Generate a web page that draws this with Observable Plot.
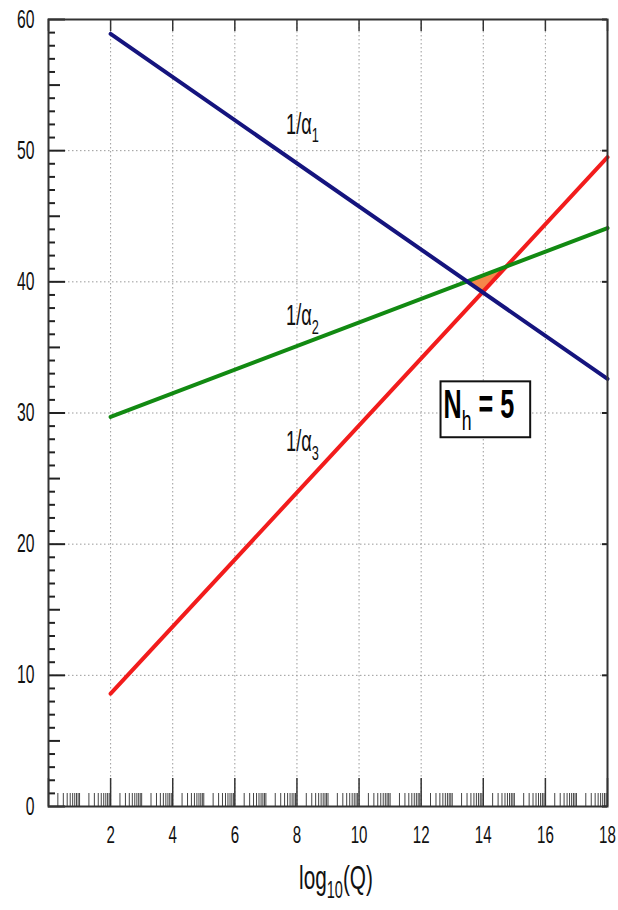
<!DOCTYPE html>
<html><head><meta charset="utf-8">
<script src="https://cdn.jsdelivr.net/npm/d3@7"></script>
<script src="https://cdn.jsdelivr.net/npm/@observablehq/plot@0.6"></script>
<style>
html,body{margin:0;padding:0;background:#fff;}
#chart svg{display:block;}
</style></head>
<body><div id="chart"></div>
<script>
// ---- data ----
const logQ = [2, 18];
const invAlpha1 = [58.9, 32.6];
const invAlpha2 = [29.7, 44.1];
const invAlpha3 = [8.6, 49.5];
const seriesNames = ["1/α_1", "1/α_2", "1/α_3"];
const seriesColors = ["#15147e", "#128a12", "#f21c1c"];
const labelX = [7.65, 7.65, 7.65];
const labelY = [51.3, 36.7, 27.1];
const triX = [13.48, 14.74, 13.98];
const triY = [40.0, 41.2, 39.2];
const xTickLabels = [2, 4, 6, 8, 10, 12, 14, 16, 18];
const yTickLabels = [0, 10, 20, 30, 40, 50, 60];
const xTitle = "log_{10}(Q)";
const boxText = "N_h = 5";
const boxAnchorX = [12.72];
const boxAnchorY = [29.6];
const logSteps = [1, 2, 3, 4, 5, 6, 7, 8, 9];

// ---- layout ----
const W = 618, H = 910;
const mL = 48, mR = 11, mT = 19, mB = 104;
const innerW = W - mL - mR, innerH = H - mT - mB;
const fontFamily = "'Liberation Sans Narrow','Liberation Sans',Arial,sans-serif";

const cv = document.createElement("canvas").getContext("2d");
cv.font = `100px ${fontFamily}`;
const digitEm = cv.measureText("0").width / 100;
const squeeze = Math.min(1, 0.35 / digitEm);

// tick positions
const xMinor = [];
for (let k = 0; k < 18; k++) for (const m of logSteps) {
  const v = k + Math.log10(m);
  if (!(m === 1 && k % 2 === 0)) xMinor.push(v);
}
const xMajor = d3.range(0, 19, 2);
const yAll = d3.range(0, 61, 1);
const yMinor = yAll.filter(v => v % 5 !== 0);
const yMid = yAll.filter(v => v % 5 === 0 && v % 10 !== 0);
const yMajor = yAll.filter(v => v % 10 === 0);

const gridStyle = {stroke: "#9a9a9a", strokeOpacity: 1, strokeWidth: 1, strokeDasharray: "1.5,2.5"};

const chart = Plot.plot({
  width: W, height: H,
  marginLeft: mL, marginRight: mR, marginTop: mT, marginBottom: mB,
  x: {domain: [0, 18], axis: null},
  y: {domain: [0, 60], axis: null},
  style: {fontFamily, fontSize: "24px", color: "#111", background: "#fff", overflow: "visible"},
  marks: [
    Plot.ruleX(xTickLabels.filter(v => v < 18), {x: d => d, ...gridStyle}),
    Plot.ruleY(yTickLabels.filter(v => v > 0 && v < 60), {y: d => d, ...gridStyle}),
    Plot.line(triX.map((_, i) => i), {x: i => triX[i], y: i => triY[i], fill: "#f5874a", stroke: "none", curve: "linear-closed"}),
    Plot.line(logQ, {x: d => d, y: (d, i) => invAlpha3[i], stroke: seriesColors[2], strokeWidth: 4}),
    Plot.line(logQ, {x: d => d, y: (d, i) => invAlpha2[i], stroke: seriesColors[1], strokeWidth: 4}),
    Plot.line(logQ, {x: d => d, y: (d, i) => invAlpha1[i], stroke: seriesColors[0], strokeWidth: 4}),
    // x ticks
    Plot.tickX(xMinor, {x: d => d, insetTop: innerH - 13, stroke: "#444", strokeWidth: 1}),
    Plot.tickX(xMajor, {x: d => d, insetTop: innerH - 28, stroke: "#333", strokeWidth: 1.5}),
    Plot.tickX(xMajor, {x: d => d, insetBottom: innerH - 12, stroke: "#333", strokeWidth: 1.5}),
    // y ticks
    Plot.tickY(yMinor, {y: d => d, insetRight: innerW - 7, stroke: "#222", strokeWidth: 2}),
    Plot.tickY(yMid, {y: d => d, insetRight: innerW - 12, stroke: "#222", strokeWidth: 2}),
    Plot.tickY(yMajor, {y: d => d, insetRight: innerW - 17, stroke: "#222", strokeWidth: 2}),
    Plot.tickY(yMajor, {y: d => d, insetLeft: innerW - 5, stroke: "#222", strokeWidth: 2}),
    Plot.frame({stroke: "#333", strokeWidth: 2}),
    // tick labels
    Plot.text(xTickLabels, {x: d => d, text: d => String(d), frameAnchor: "bottom", dy: 19, lineAnchor: "top", fontSize: 24, fill: "#111"}),
    Plot.text(yTickLabels, {y: d => d, text: d => String(d), frameAnchor: "left", dx: -14, textAnchor: "end", lineAnchor: "middle", fontSize: 25, fill: "#111"}),
    Plot.text(seriesNames.map((_, i) => i), {x: i => labelX[i], y: i => labelY[i], text: i => seriesNames[i],
      textAnchor: "start", lineAnchor: "bottom", fontSize: 29, fill: "#111"}),
    Plot.text([xTitle], {text: d => d, frameAnchor: "bottom", dx: 8, dy: 82, lineAnchor: "bottom", fontSize: 33, fill: "#111"}),
    Plot.text([boxText], {x: () => boxAnchorX[0], y: () => boxAnchorY[0], text: d => d, textAnchor: "start", lineAnchor: "bottom",
      fontSize: 40, fontWeight: "bold", fill: "#000"})
  ]
});

document.getElementById("chart").appendChild(chart);

const ns = "http://www.w3.org/2000/svg";
let boxEl = null;
// subscripts
chart.querySelectorAll("text").forEach(t => {
  const s = t.textContent;
  const m = s.match(/^(.*?)_(\{([^}]*)\}|(.))(.*)$/);
  if (!m) return;
  if (s === boxText) boxEl = t;
  const pre = m[1], sub = m[3] !== undefined ? m[3] : m[4], post = m[5];
  const fs = parseFloat(getComputedStyle(t).fontSize);
  const shift = fs * 0.3;
  t.textContent = "";
  const a = document.createElementNS(ns, "tspan"); a.textContent = pre; t.appendChild(a);
  const b = document.createElementNS(ns, "tspan"); b.textContent = sub;
  b.setAttribute("font-size", fs * 0.7); b.setAttribute("dy", shift); b.setAttribute("font-weight", "normal");
  t.appendChild(b);
  if (post) {
    const c = document.createElementNS(ns, "tspan"); c.textContent = post; c.setAttribute("dy", -shift);
    t.appendChild(c);
  }
});
// condensed text (horizontal squeeze around each text's anchor)
chart.querySelectorAll("text").forEach(t => {
  const tr = t.getAttribute("transform") || "";
  t.setAttribute("transform", `${tr} scale(${squeeze},1)`);
});
// box around N_h label
if (boxEl) {
  const r = boxEl.getBoundingClientRect(), s = chart.getBoundingClientRect();
  const rect = document.createElementNS(ns, "rect");
  rect.setAttribute("x", r.left - s.left - 3);
  rect.setAttribute("y", r.top - s.top - 1);
  rect.setAttribute("width", r.width + 3 + 16);
  rect.setAttribute("height", r.height + 2);
  rect.setAttribute("fill", "#fff");
  rect.setAttribute("stroke", "#111");
  rect.setAttribute("stroke-width", 2);
  const g = boxEl.parentNode;
  g.parentNode.insertBefore(rect, g);
}
</script>
</body></html>
